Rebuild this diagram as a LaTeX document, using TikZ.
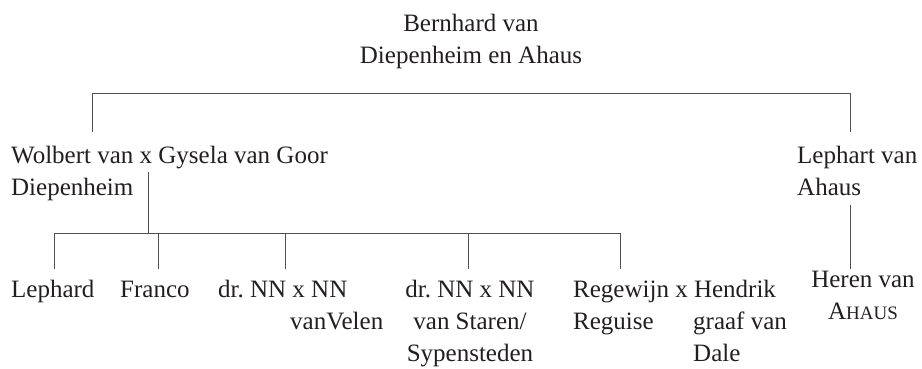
\documentclass[tikz,border=0pt]{standalone}
\usepackage{fontspec}
\setmainfont{Liberation Serif}
\definecolor{txt}{HTML}{231F20}
\definecolor{lncol}{HTML}{505050}
\begin{document}
\begin{tikzpicture}[x=1pt,y=-1pt,
  lbl/.style={inner sep=0pt, font=\fontsize{25}{32}\selectfont, text=txt},
  ln/.style={draw=lncol, line width=0.9pt}]
\useasboundingbox (0,0) rectangle (922,368);
% texts (base anchor = baseline of the last line)
\node[lbl, align=center, anchor=base] (bern) at (471,63) {Bernhard van\\Diepenheim en Ahaus};
\node[lbl, align=left, anchor=base west] (wolb) at (11,195) {Wolbert van x Gysela van Goor\\Diepenheim};
\node[lbl, align=left, anchor=base west] (leph) at (797,195) {Lephart van\\Ahaus};
\node[lbl, anchor=base west] (c1) at (11,297) {Lephard};
\node[lbl, anchor=base west] (c2) at (120,297) {Franco};
\node[lbl, align=left, anchor=base west] (c3) at (218,329) {dr.\ NN x NN\\\hspace*{72pt}vanVelen};
\node[lbl, align=center, anchor=base] (c4) at (470,361) {dr.\ NN x NN\\van Staren/\\Sypensteden};
\node[lbl, align=left, anchor=base west] (c5) at (573,361) {Regewijn x Hendrik\\\makebox[120pt][l]{Reguise}graaf van\\\hspace*{120pt}Dale};
\node[lbl, align=center, anchor=base] (her) at (863,319) {Heren van\\A{\fontsize{19}{32}\selectfont HAUS}};
% connector points
\coordinate (barL) at (92,93);
\coordinate (barR) at (850,93);
\coordinate (wolbUp) at (92,132);
\coordinate (lephUp) at (850,132);
\coordinate (wolbDn) at (148,172);
\coordinate (kidsBar) at (148,233);
\coordinate (k1) at (54,269);
\coordinate (k2) at (158,269);
\coordinate (k3) at (285,269);
\coordinate (k4) at (468,269);
\coordinate (k5) at (620,269);
\coordinate (lephDn) at (850,205);
\coordinate (herUp) at (850,269);
% connectors
\draw[ln] (wolbUp) -- (barL) -- (barR) -- (lephUp);
\draw[ln] (wolbDn) -- (kidsBar);
\draw[ln] (k1) |- (kidsBar);
\draw[ln] (k5) |- (kidsBar);
\draw[ln] (k2) -- (k2 |- kidsBar);
\draw[ln] (k3) -- (k3 |- kidsBar);
\draw[ln] (k4) -- (k4 |- kidsBar);
\draw[ln] (lephDn) -- (herUp);
\end{tikzpicture}
\end{document}
